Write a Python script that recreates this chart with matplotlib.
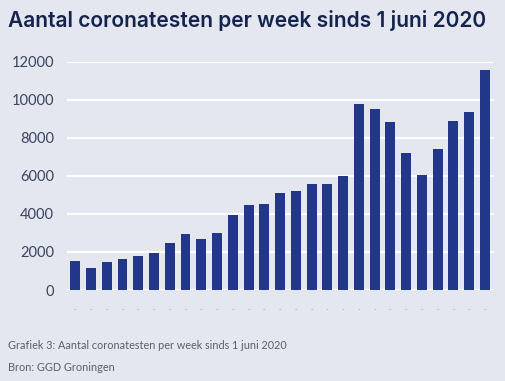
import numpy as np
import matplotlib.pyplot as plt

# aantal testen per week
weken = list(range(1, 28))
testen = [1530, 1140, 1470, 1610, 1790, 1930, 2460, 2930, 2680, 3020,
          3930, 4490, 4530, 5110, 5210, 5580, 5580, 6000, 9750, 9510,
          8810, 7190, 6050, 7420, 8860, 9370, 11560]
yticks = [0, 2000, 4000, 6000, 8000, 10000, 12000]

bg = '#e4e7ef'
navy = '#23378a'
tekst = '#3a4460'

plt.rcParams['font.family'] = ['Lato', 'DejaVu Sans']

fig = plt.figure(figsize=(5.05, 3.81), dpi=100, facecolor=bg)
ax = fig.add_axes([0.133, 0.2388, 0.845, 0.5995], facecolor=bg)

x = np.arange(len(weken))
ax.bar(x, testen, width=0.63, color=navy, zorder=3)

ax.set_ylim(0, 12000)
ax.set_xlim(-0.51, 26.57)
ax.set_yticks(yticks)
ax.set_yticklabels([str(v) for v in yticks], fontsize=10.5, color=tekst)
ax.set_xticks(x)
ax.set_xticklabels(['-'] * len(x), fontsize=5, color='#9aa0b0')
ax.tick_params(axis='both', length=0)
ax.tick_params(axis='y', pad=9.5)
ax.tick_params(axis='x', pad=12)
ax.grid(axis='y', color='white', linewidth=1.6, zorder=0)
for s in ax.spines.values():
    s.set_visible(False)

fig.text(0.016, 0.945, 'Aantal coronatesten per week sinds 1 juni 2020',
         fontsize=15.1, fontweight='semibold', color='#15244d',
         family=['Inter', 'DejaVu Sans'], va='center')
fig.text(0.016, 0.092, 'Grafiek 3: Aantal coronatesten per week sinds 1 juni 2020',
         fontsize=7.8, color='#5a5f6b', va='center')
fig.text(0.016, 0.036, 'Bron: GGD Groningen',
         fontsize=7.8, color='#5a5f6b', va='center')

fig.savefig('out.png', dpi=100, facecolor=bg)
